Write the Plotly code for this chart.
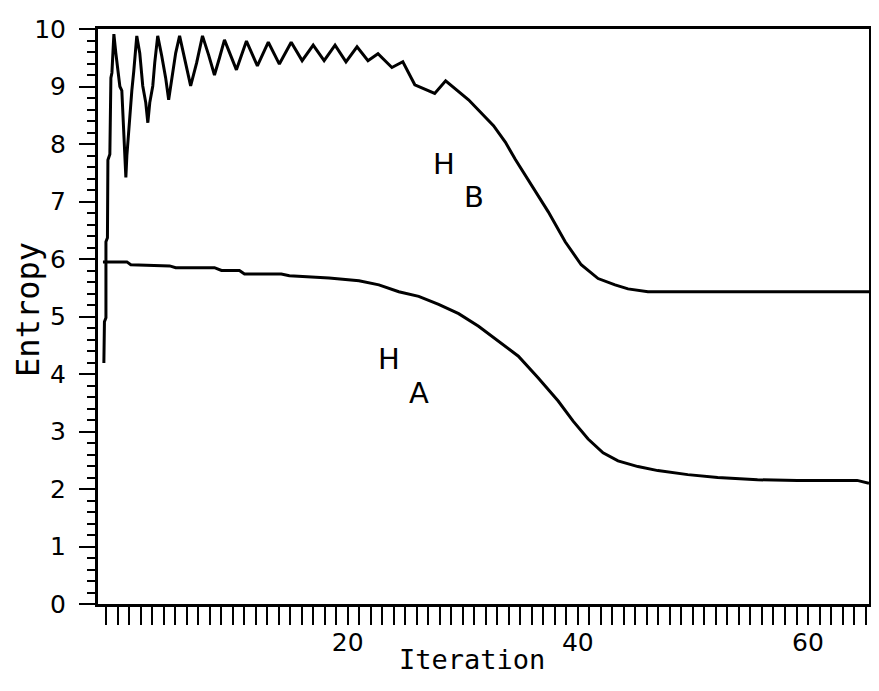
import plotly.graph_objects as go

# H_B curve (upper)
hb_x = [-1.19, -1.14, -1.01, -1.01, -0.88, -0.84, -0.67, -0.58, -0.49, -0.32,
        -0.15, 0.20, 0.37, 0.63, 0.72, 0.81, 0.98, 1.24, 1.41, 1.67,
        1.93, 2.19, 2.45, 2.63, 2.80, 3.06, 3.23, 3.49, 3.84, 4.18,
        4.44, 4.70, 5.05, 5.39, 5.83, 6.35, 6.87, 7.38, 7.91, 8.42,
        8.86, 9.29, 10.33, 11.20, 12.15, 13.10, 14.06, 15.09, 16.04, 17.00,
        17.95, 18.90, 19.85, 20.81, 21.76, 22.63, 23.84, 24.79, 25.83, 27.56,
        28.51, 30.50, 32.67, 33.71, 34.57, 35.95, 37.43, 38.90, 40.29, 41.76,
        43.23, 44.36, 46.09, 50.42, 59.08, 65.30]
hb_y = [4.19, 4.91, 4.98, 6.30, 6.37, 7.72, 7.82, 9.15, 9.24, 9.91,
        9.58, 9.00, 8.93, 7.80, 7.42, 7.80, 8.32, 8.93, 9.27, 9.88,
        9.58, 9.01, 8.72, 8.37, 8.72, 9.01, 9.41, 9.88, 9.53, 9.15,
        8.77, 9.15, 9.58, 9.88, 9.50, 9.01, 9.41, 9.88, 9.55, 9.20,
        9.50, 9.81, 9.29, 9.79, 9.36, 9.77, 9.39, 9.77, 9.45, 9.72,
        9.45, 9.72, 9.43, 9.69, 9.45, 9.57, 9.33, 9.43, 9.03, 8.88,
        9.10, 8.77, 8.32, 8.03, 7.73, 7.28, 6.82, 6.30, 5.90, 5.66,
        5.55, 5.48, 5.43, 5.43, 5.43, 5.43]

# H_A curve (lower)
ha_x = [-1.27, 0.81, 1.15, 4.53, 5.05, 8.42, 9.03, 10.59, 11.03, 14.23,
        14.93, 18.38, 20.98, 22.71, 24.44, 26.17, 27.90, 29.64, 31.37, 33.10,
        34.83, 36.56, 38.29, 39.59, 40.89, 42.19, 43.49, 45.22, 46.95, 49.55,
        52.15, 55.61, 59.07, 64.27, 65.30]
ha_y = [5.95, 5.95, 5.90, 5.88, 5.85, 5.85, 5.80, 5.80, 5.74, 5.74,
        5.71, 5.67, 5.62, 5.55, 5.43, 5.35, 5.21, 5.05, 4.83, 4.57,
        4.31, 3.93, 3.53, 3.18, 2.87, 2.63, 2.49, 2.39, 2.32, 2.25,
        2.20, 2.16, 2.15, 2.15, 2.10]

x_ticks = [20, 40, 60]
y_ticks = list(range(0, 11))

labels = ["H", "A", "H", "B"]
label_x = [23.57, 26.17, 28.34, 30.94]
label_y = [4.26, 3.67, 7.65, 7.08]

fig = go.Figure()
fig.add_trace(go.Scatter(x=hb_x, y=hb_y, mode="lines",
                         line=dict(color="black", width=3), showlegend=False))
fig.add_trace(go.Scatter(x=ha_x, y=ha_y, mode="lines",
                         line=dict(color="black", width=3), showlegend=False))

tick_font = dict(family="DejaVu Sans", size=25, color="black")

fig.update_layout(
    width=871, height=683,
    margin=dict(l=90, r=7, t=18, b=87),
    paper_bgcolor="white", plot_bgcolor="white",
    xaxis=dict(range=[-1.7, 65.3], showgrid=False, zeroline=False,
               showline=True, mirror=True, linecolor="black", linewidth=3,
               tickmode="array", tickvals=x_ticks, ticktext=[str(v) for v in x_ticks],
               ticks="outside", ticklen=18, tickwidth=2, tickcolor="black",
               tickfont=tick_font, ticklabelstandoff=-4,
               minor=dict(tickmode="linear", tick0=0, dtick=1, ticks="outside",
                          ticklen=18, tickwidth=2, tickcolor="black", showgrid=False)),
    yaxis=dict(range=[0, 10], showgrid=False, zeroline=False,
               showline=True, mirror=True, linecolor="black", linewidth=3,
               tickmode="array", tickvals=y_ticks, ticktext=[str(v) for v in y_ticks],
               ticks="outside", ticklen=16, tickwidth=2, tickcolor="black",
               tickfont=tick_font, ticklabelstandoff=8,
               minor=dict(tickmode="linear", tick0=0, dtick=0.2, ticks="outside",
                          ticklen=8, tickwidth=2, tickcolor="black", showgrid=False)),
)

fig.add_annotation(text="Iteration", xref="paper", yref="paper", x=0.4845, y=-0.097,
                   showarrow=False,
                   font=dict(family="DejaVu Sans Mono", size=27, color="black"),
                   xanchor="center", yanchor="middle")
fig.add_annotation(text="Entropy", xref="paper", yref="paper", x=-0.0917, y=0.512,
                   showarrow=False,
                   font=dict(family="DejaVu Sans Mono", size=32, color="black"),
                   textangle=-90, xanchor="center", yanchor="middle")

for t, lx, ly in zip(labels, label_x, label_y):
    fig.add_annotation(text=t, x=lx, y=ly, xref="x", yref="y", showarrow=False,
                       font=dict(family="DejaVu Sans", size=29, color="black"),
                       xanchor="center", yanchor="middle")

fig.write_html("out.html")
